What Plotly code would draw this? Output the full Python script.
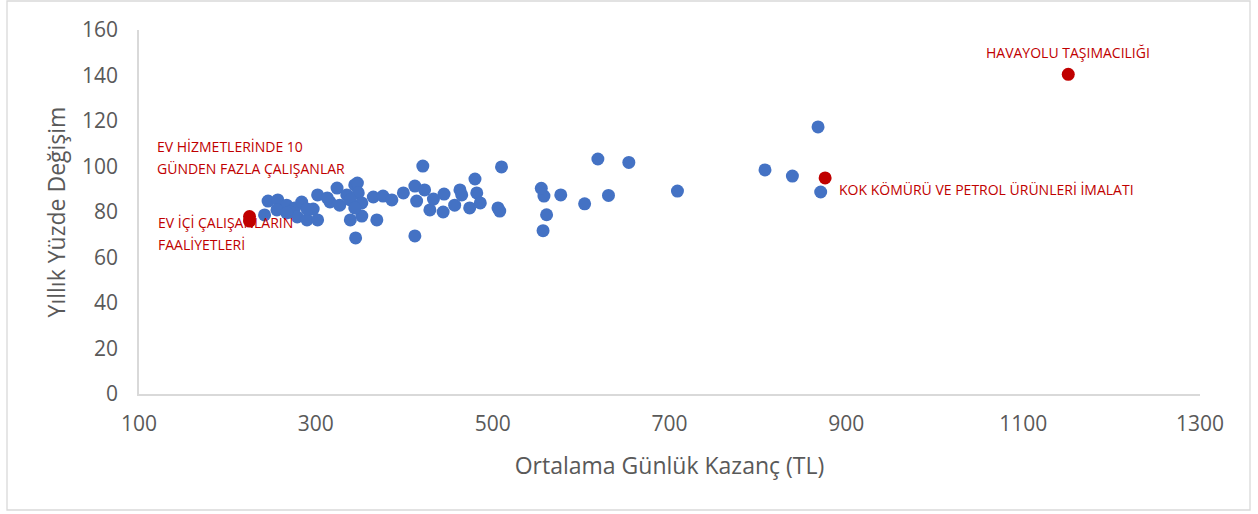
import plotly.graph_objects as go

# Blue points: average daily earnings (TL) vs annual % change
blue_x = [242, 246, 257, 267, 276, 271, 279, 284, 290, 297, 302, 302, 316, 324, 335, 344,
          347, 348, 327, 339, 352, 365, 376, 386, 399, 412, 423, 414, 429, 433, 445, 444,
          457, 463, 465, 480, 482, 486, 474, 506, 508, 339, 352, 369, 345, 412, 421, 510,
          256, 267, 290, 313, 344,
          868, 871, 839, 808, 709, 654, 619, 631, 604, 577, 558, 555, 561, 557]
blue_y = [78.7, 84.8, 85.3, 83.0, 81.8, 80.0, 77.8, 84.4, 76.5, 81.3, 87.5, 76.5, 84.4, 90.5,
          87.5, 91.9, 92.7, 88.4, 83.0, 85.3, 84.0, 86.6, 87.0, 85.3, 88.4, 91.4, 89.7, 84.8,
          80.9, 85.7, 87.9, 80.0, 83.0, 89.7, 87.5, 94.5, 88.4, 84.0, 81.8, 81.8, 80.4, 76.5,
          78.2, 76.5, 68.6, 69.5, 100.2, 99.8,
          80.9, 79.6, 81.3, 86.2, 81.8,
          117.4, 88.8, 95.8, 98.5, 89.2, 101.8, 103.3, 87.3, 83.6, 87.5, 87.0, 90.4, 78.8, 71.8]

# Highlighted (red) points
red_x = [225, 225, 876, 1151]
red_y = [78.0, 76.0, 95.0, 140.5]

x_ticks = [100, 300, 500, 700, 900, 1100, 1300]
y_ticks = [0, 20, 40, 60, 80, 100, 120, 140, 160]

x_title = "Ortalama Günlük Kazanç (TL)"
y_title = "Yıllık Yüzde Değişim"

# label text, x, y, xanchor
labels = [
    ("HAVAYOLU TAŞIMACILIĞI", 1151, 150.0, "center"),
    ("KOK KÖMÜRÜ VE PETROL ÜRÜNLERİ İMALATI", 889, 90.1, "left"),
    ("EV HİZMETLERİNDE 10", 118, 108.6, "left"),
    ("GÜNDEN FAZLA ÇALIŞANLAR", 118, 99.3, "left"),
    ("EV İÇİ ÇALIŞANLARIN", 119, 75.2, "left"),
    ("FAALİYETLERİ", 119, 65.9, "left"),
]

BLUE = "#4472C4"
RED = "#C00000"
GRID = "#D9D9D9"
TXT = "#595959"
FONT = "Open Sans"

fig = go.Figure()
fig.add_trace(go.Scatter(x=blue_x, y=blue_y, mode="markers",
                         marker=dict(size=13, color=BLUE, line=dict(width=0)),
                         hoverinfo="x+y", showlegend=False))
fig.add_trace(go.Scatter(x=red_x, y=red_y, mode="markers",
                         marker=dict(size=13, color=RED, line=dict(width=0)),
                         hoverinfo="x+y", showlegend=False))

for text, lx, ly, anc in labels:
    fig.add_annotation(x=lx, y=ly, text=text, showarrow=False, xanchor=anc,
                       yanchor="middle", font=dict(family=FONT, size=14, color=RED))

# outer chart border
fig.add_shape(type="rect", xref="paper", yref="paper",
              x0=(7 - 139) / 1061, x1=(1250 - 139) / 1061,
              y0=(394 - 510) / 364, y1=(394 - 1) / 364,
              line=dict(color=GRID, width=1.3), fillcolor="rgba(0,0,0,0)", layer="below")

fig.update_layout(
    width=1258, height=514,
    margin=dict(l=139, r=58, t=30, b=120),
    paper_bgcolor="white", plot_bgcolor="white",
    font=dict(family=FONT, color=TXT),
    showlegend=False,
    xaxis=dict(range=[100, 1300], tickvals=x_ticks, showgrid=False, zeroline=False,
               showline=True, linecolor=GRID, linewidth=1.5,
               tickfont=dict(size=21, color=TXT), ticklabelstandoff=10,
               title=dict(text=x_title, font=dict(size=23, color=TXT), standoff=22)),
    yaxis=dict(range=[0, 160], tickvals=y_ticks, showgrid=False, zeroline=False,
               showline=True, linecolor=GRID, linewidth=1.5,
               tickfont=dict(size=21, color=TXT), ticklabelstandoff=15,
               title=dict(text=y_title, font=dict(size=23, color=TXT), standoff=10)),
)

fig.write_html("out.html", config={"displayModeBar": False},
               post_script="document.body.style.margin='0px';")
